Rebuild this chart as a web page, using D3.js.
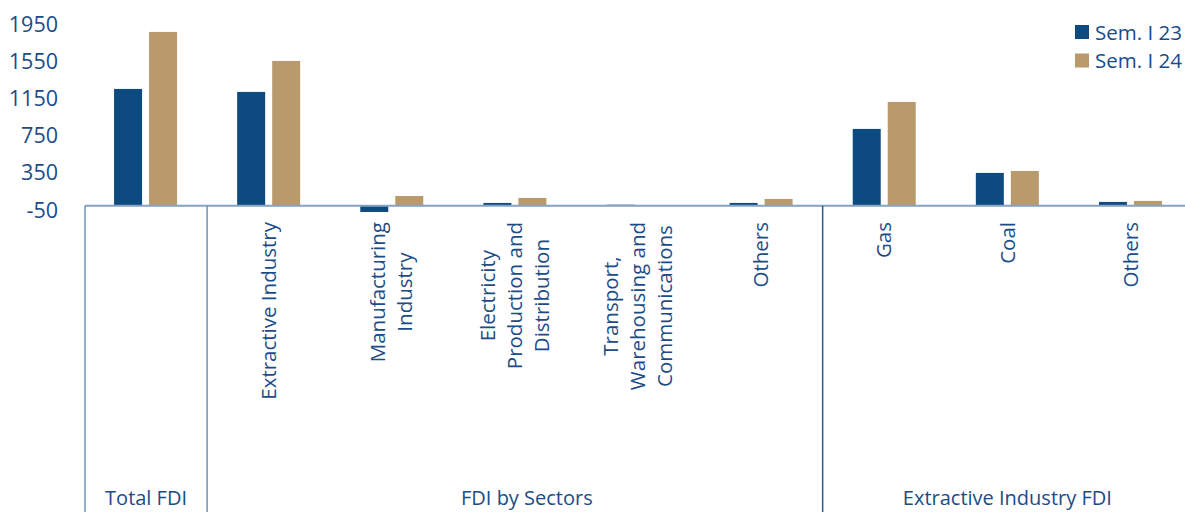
<!DOCTYPE html>
<html>
<head>
<meta charset="utf-8">
<script src="https://cdnjs.cloudflare.com/ajax/libs/d3/7.8.5/d3.min.js"></script>
<style>
  body { margin: 0; background: #fff; }
  text { font-family: "Open Sans", sans-serif; fill: #1b4c86; }
</style>
</head>
<body>
<script>
// DATA
var categories = ["Total FDI", "Extractive Industry", "Manufacturing Industry",
  "Electricity Production and Distribution", "Transport, Warehousing and Communications",
  "Others", "Gas", "Coal", "Others "];
// line breaks of the category labels
var labelLines = [
  [],
  ["Extractive Industry"],
  ["Manufacturing", "Industry"],
  ["Electricity", "Production and", "Distribution"],
  ["Transport,", "Warehousing and", "Communications"],
  ["Others"],
  ["Gas"],
  ["Coal"],
  ["Others"]
];
var series = ["Sem. I 23", "Sem. I 24"];
var sem23 = [1255, 1223, -68, 29, 10, 29, 825, 352, 40];
var sem24 = [1868, 1556, 104, 83, 5, 72, 1115, 373, 51];
var yTicks = [-50, 350, 750, 1150, 1550, 1950];
var groups = [
  { name: "Total FDI", from: 0, to: 0 },
  { name: "FDI by Sectors", from: 1, to: 5 },
  { name: "Extractive Industry FDI", from: 6, to: 8 }
];
var colors = ["#0d4a80", "#b89a6d"];

var width = 1185, height = 512;

var svg = d3.select("body")
  .append("svg")
  .attr("width", width)
  .attr("height", height);

var x = d3.scaleBand()
  .domain(categories)
  .range([84, 1192])
  .padding(0);

var xs = d3.scaleBand()
  .domain(series)
  .range([(x.bandwidth() - 63) / 2, (x.bandwidth() + 63) / 2])
  .paddingInner(0.2);

var y = d3.scaleLinear()
  .domain([-50, 1950])
  .range([210.3, 24.3]);

// y axis labels (plain hyphen, no thousands separator)
var yAxis = d3.axisLeft(y)
  .tickValues(yTicks)
  .tickFormat(function (d) { return String(d); })
  .tickSize(0)
  .tickPadding(0);

svg.append("g")
  .attr("transform", "translate(58,0)")
  .call(yAxis)
  .call(function (g) { g.select(".domain").remove(); })
  .selectAll("text")
  .style("font-size", "21.5px")
  .attr("fill", "#1b4c86");

// bars
var rows = categories.map(function (c, i) { return { cat: c, vals: [sem23[i], sem24[i]] }; });

var cat = svg.selectAll(".cat")
  .data(rows)
  .enter().append("g")
  .attr("class", "cat")
  .attr("transform", function (d) { return "translate(" + x(d.cat) + ",0)"; });

cat.selectAll("rect")
  .data(function (d) { return d.vals.map(function (v, j) { return { s: series[j], v: v, j: j }; }); })
  .enter().append("rect")
  .attr("x", function (d) { return xs(d.s); })
  .attr("width", xs.bandwidth())
  .attr("y", function (d) { return y(Math.max(0, d.v)); })
  .attr("height", function (d) { return Math.abs(y(d.v) - y(0)); })
  .attr("fill", function (d) { return colors[d.j]; });

// category axis line
svg.append("line")
  .attr("x1", x(categories[0]) + 1).attr("x2", width)
  .attr("y1", y(0)).attr("y2", y(0))
  .attr("stroke", "#86a2c2")
  .attr("stroke-width", 2);

// group separators
var seps = [x(categories[0]) + 1, x(categories[1]), x(categories[6])];
svg.selectAll(".sep")
  .data(seps)
  .enter().append("line")
  .attr("class", "sep")
  .attr("x1", function (d) { return d; }).attr("x2", function (d) { return d; })
  .attr("y1", y(0)).attr("y2", height)
  .attr("stroke", function (d, i) { return i == 2 ? "#2d5a8c" : "#6f93bb"; })
  .attr("stroke-width", 1.5);

// rotated category labels
var lineGap = 27;
labelLines.forEach(function (lines, i) {
  if (!lines.length) return;
  var cx = x(categories[i]) + x.bandwidth() / 2;
  var g = svg.append("g");
  var texts = g.selectAll("text")
    .data(lines)
    .enter().append("text")
    .attr("text-anchor", "middle")
    .attr("dy", "0.35em")
    .style("font-size", "20.5px")
    .text(function (d) { return d; });
  var maxLen = d3.max(texts.nodes(), function (n) { return n.getComputedTextLength(); });
  var cy = 222 + maxLen / 2;
  texts.attr("transform", function (d, k) {
    var lx = cx + (k - (lines.length - 1) / 2) * lineGap;
    return "translate(" + lx + "," + cy + ") rotate(-90)";
  });
});

// group labels
svg.selectAll(".grp")
  .data(groups)
  .enter().append("text")
  .attr("class", "grp")
  .attr("x", function (d) {
    var a = d.from == 0 ? x(categories[0]) + 1 : x(categories[d.from]);
    var b = x(categories[d.to]) + x.bandwidth();
    return (a + b) / 2 + (d.from == 1 ? 12 : 0);
  })
  .attr("y", 505)
  .attr("text-anchor", "middle")
  .style("font-size", "20px")
  .text(function (d) { return d.name; });

// legend
var legend = svg.selectAll(".leg")
  .data(series)
  .enter().append("g")
  .attr("class", "leg")
  .attr("transform", function (d, i) { return "translate(1075," + (25 + i * 28.5) + ")"; });

legend.append("rect")
  .attr("width", 14).attr("height", 14)
  .attr("fill", function (d, i) { return colors[i]; });

legend.append("text")
  .attr("x", 20).attr("y", 14.5)
  .style("font-size", "20.5px")
  .text(function (d) { return d; });
</script>
</body>
</html>
